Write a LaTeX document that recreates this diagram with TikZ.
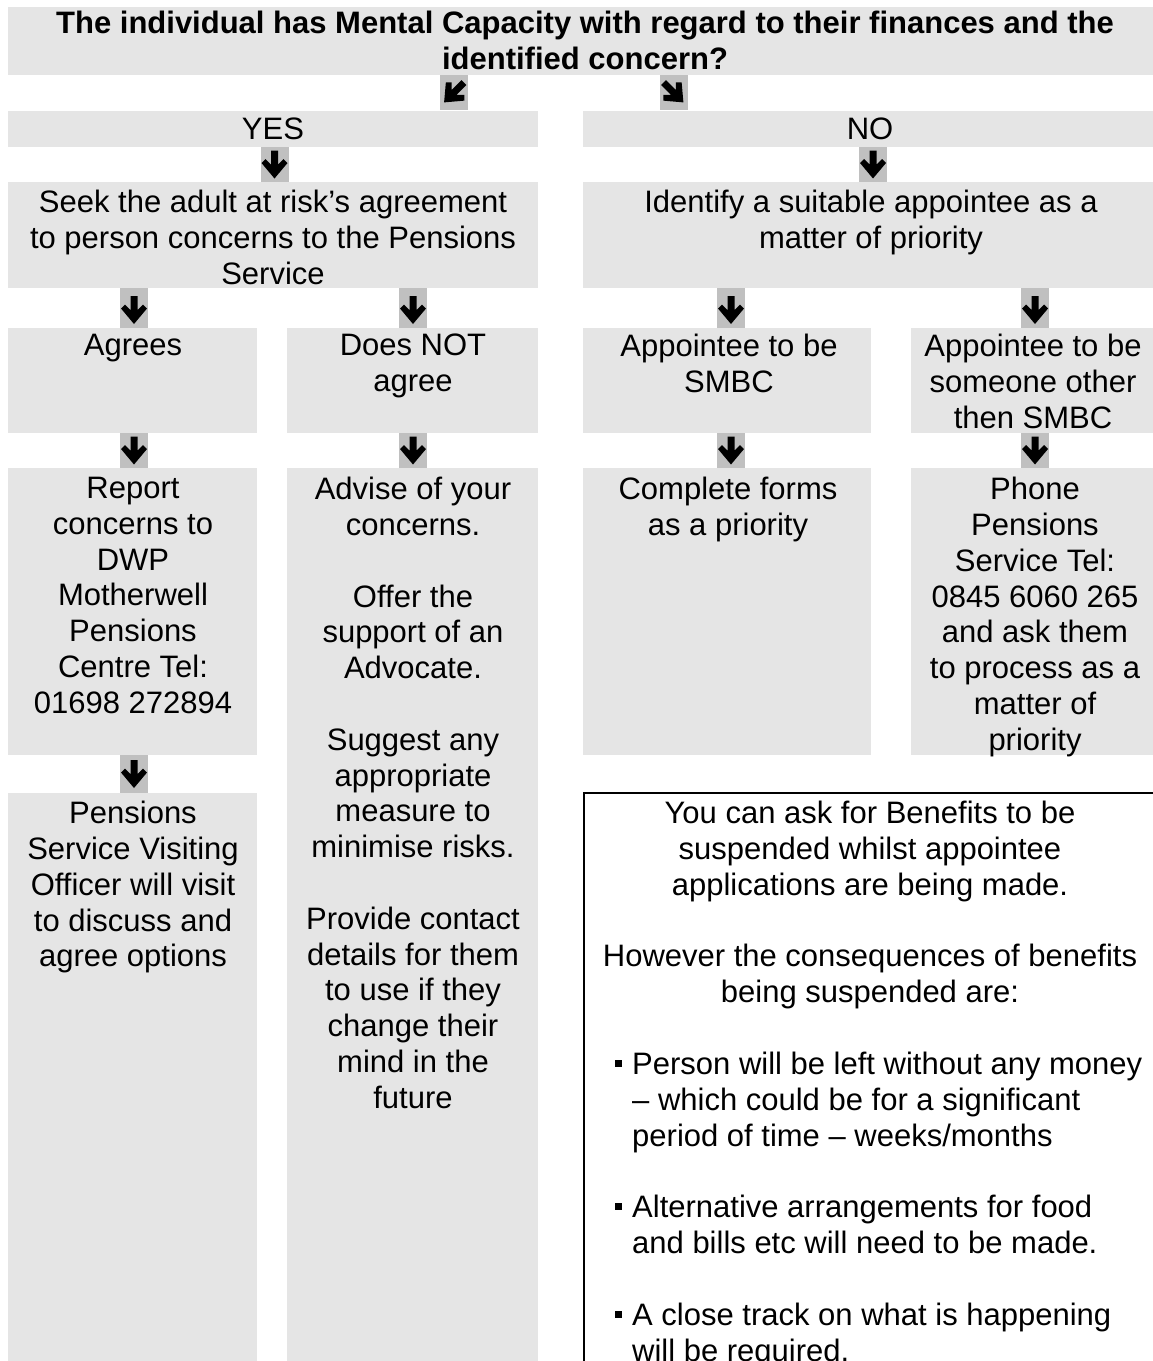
\documentclass[tikz,border=0pt]{standalone}
\usepackage{fontspec}
\setmainfont{Liberation Sans}
\definecolor{boxgray}{HTML}{E5E5E5}
\definecolor{cellgray}{HTML}{C0C0C0}
\begin{document}
\begin{tikzpicture}[x=1pt,y=-1pt,
  box/.style={fill=boxgray, draw=none, inner sep=0pt, outer sep=0pt, anchor=north west},
  cell/.style={fill=cellgray, draw=none, inner sep=0pt, outer sep=0pt, minimum width=28pt},
  txt/.style={anchor=north, inner sep=0pt, align=center, font=\fontsize{31}{35.8}\selectfont},
  bul/.style={fill=black, inner sep=0pt, minimum size=7pt},
  glyph/.pic={\fill[black] (-3.5,-14) -- (3.5,-14) -- (3.5,0) -- (9,-5.5) -- (13,-1.5) -- (0,14) -- (-13,-1.5) -- (-9,-5.5) -- (-3.5,0) -- cycle;}
]
\clip (0,0) rectangle (1153,1361);
\fill[white] (0,0) rectangle (1153,1361);

% boxes
\node[box, minimum width=1145pt, minimum height=68pt] (top) at (8,7) {};
\node[box, minimum width=530pt, minimum height=36pt] (yes) at (8,111) {};
\node[box, minimum width=570pt, minimum height=36pt] (no) at (583,111) {};
\node[box, minimum width=530pt, minimum height=106pt] (seek) at (8,182) {};
\node[box, minimum width=570pt, minimum height=106pt] (ident) at (583,182) {};
\node[box, minimum width=249pt, minimum height=105pt] (agrees) at (8,328) {};
\node[box, minimum width=251pt, minimum height=105pt] (notagree) at (287,328) {};
\node[box, minimum width=288pt, minimum height=105pt] (smbc) at (583,328) {};
\node[box, minimum width=242pt, minimum height=105pt] (other) at (911,328) {};
\node[box, minimum width=249pt, minimum height=287pt] (report) at (8,468) {};
\node[box, minimum width=251pt, minimum height=893pt] (advise) at (287,468) {};
\node[box, minimum width=288pt, minimum height=287pt] (complete) at (583,468) {};
\node[box, minimum width=242pt, minimum height=287pt] (phone) at (911,468) {};
\node[box, minimum width=249pt, minimum height=568pt] (visit) at (8,793) {};
\node[box, fill=white, draw=black, line width=2pt, minimum width=600pt, minimum height=600pt] (note) at (584,793) {};

% arrow cells
\node[cell, minimum height=35pt] (c1) at (454,92.5) {};
\node[cell, minimum height=35pt] (c2) at (673.5,92.5) {};
\node[cell, minimum height=35pt] (c3) at (274.5,164.5) {};
\node[cell, minimum height=35pt] (c4) at (873,164.5) {};
\node[cell, minimum height=40pt] (c5) at (134,308) {};
\node[cell, minimum height=40pt] (c6) at (413,308) {};
\node[cell, minimum height=40pt] (c7) at (731,308) {};
\node[cell, minimum height=40pt] (c8) at (1035,308) {};
\node[cell, minimum height=35pt] (c9) at (134,450.5) {};
\node[cell, minimum height=35pt] (c10) at (413,450.5) {};
\node[cell, minimum height=35pt] (c11) at (731,450.5) {};
\node[cell, minimum height=35pt] (c12) at (1035,450.5) {};
\node[cell, minimum height=38pt] (c13) at (134,774) {};

% arrow glyphs
\pic[rotate=-45] at (c1.center) {glyph};
\pic[rotate=45] at (c2.center) {glyph};
\foreach \c in {c3,c4,c9,c10,c11,c12,c13} {\pic at (\c.center) {glyph};}
\foreach \c in {c5,c6,c7,c8} {\pic at ([yshift=-2pt]\c.center) {glyph};}

% texts
\node[txt, font=\fontsize{31}{35.8}\selectfont\bfseries] (topt) at (585,11)
  {The individual has Mental Capacity with regard to their finances and the\\identified concern?};
\node[txt] (yest) at (273,118) {YES};
\node[txt] (not) at (870,118) {NO};
\node[txt] (seekt) at (273,190) {Seek the adult at risk’s agreement\\to person concerns to the Pensions\\Service};
\node[txt] (identt) at (871,190) {Identify a suitable appointee as a\\matter of priority};
\node[txt] (agreest) at (133,334) {Agrees};
\node[txt] (notagreet) at (413,334) {Does NOT\\agree};
\node[txt] (smbct) at (729,334) {Appointee to be\\SMBC};
\node[txt] (othert) at (1033,334) {Appointee to be\\someone other\\then SMBC};
\node[txt] (reportt) at (133,477) {Report\\concerns to\\DWP\\Motherwell\\Pensions\\Centre Tel:\\01698 272894};
\node[txt] (adviset) at (413,477) {Advise of your\\concerns.\\[35.8pt]Offer the\\support of an\\Advocate.\\[35.8pt]Suggest any\\appropriate\\measure to\\minimise risks.\\[35.8pt]Provide contact\\details for them\\to use if they\\change their\\mind in the\\future};
\node[txt] (completet) at (728,477) {Complete forms\\as a priority};
\node[txt] (phonet) at (1035,477) {Phone\\Pensions\\Service Tel:\\0845 6060 265\\and ask them\\to process as a\\matter of\\priority};
\node[txt] (visitt) at (133,801) {Pensions\\Service Visiting\\Officer will visit\\to discuss and\\agree options};
\node[txt] (notet) at (870,801) {You can ask for Benefits to be\\suspended whilst appointee\\applications are being made.\\[35.8pt]However the consequences of benefits\\being suspended are:};
\node[txt, anchor=north west, align=left] (bullets) at (632,1052) {Person will be left without any money\\– which could be for a significant\\period of time – weeks/months\\[35.8pt]Alternative arrangements for food\\and bills etc will need to be made.\\[35.8pt]A close track on what is happening\\will be required.};
\node[bul] (b1) at (618,1063) {};
\node[bul] (b2) at (618,1206) {};
\node[bul] (b3) at (618,1314) {};
\end{tikzpicture}
\end{document}
